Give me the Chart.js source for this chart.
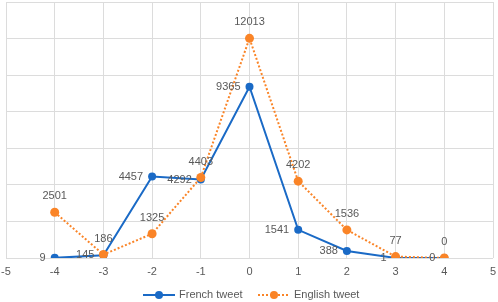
<!DOCTYPE html>
<html>
<head>
<meta charset="utf-8">
<script src="https://cdn.jsdelivr.net/npm/chart.js@4"></script>
<style>
html,body{margin:0;padding:0;background:#fff;}
#wrap{width:498px;height:302px;}
</style>
</head>
<body>
<div id="wrap"><canvas id="c" width="498" height="302"></canvas></div>
<script>
const xValues = [-4, -3, -2, -1, 0, 1, 2, 3, 4];
const frenchTweet = [9, 145, 4457, 4292, 9365, 1541, 388, 1, 0];
const englishTweet = [2501, 186, 1325, 4403, 12013, 4202, 1536, 77, 0];
const seriesNames = ['French tweet', 'English tweet'];

const BLUE = '#1a6ac6';
const ORANGE = '#fa8427';
const TEXT = '#595959';
const FONT = '"Liberation Sans", Arial, sans-serif';

const labelPlugin = {
  id: 'pointLabels',
  afterDatasetsDraw(chart) {
    const ctx = chart.ctx;
    ctx.save();
    ctx.font = '11px ' + FONT;
    ctx.fillStyle = TEXT;
    chart.data.datasets.forEach((ds, i) => {
      const meta = chart.getDatasetMeta(i);
      meta.data.forEach((pt, j) => {
        const v = ds.data[j].y;
        if (i === 0) {
          ctx.textAlign = 'right'; ctx.textBaseline = 'middle';
          ctx.fillText(String(v), pt.x - 9, pt.y);
        } else {
          ctx.textAlign = 'center'; ctx.textBaseline = 'middle';
          ctx.fillText(String(v), pt.x, pt.y - 16);
        }
      });
    });
    ctx.restore();
  }
};

const legendPlugin = {
  id: 'lineLegend',
  afterDraw(chart) {
    const ctx = chart.ctx;
    const y = 295;
    const items = [
      { x: 143, ds: chart.data.datasets[0], dash: [] },
      { x: 258, ds: chart.data.datasets[1], dash: [2, 2] }
    ];
    ctx.save();
    items.forEach(it => {
      ctx.strokeStyle = it.ds.borderColor;
      ctx.lineWidth = 2;
      ctx.setLineDash(it.dash);
      ctx.beginPath(); ctx.moveTo(it.x, y); ctx.lineTo(it.x + 32, y); ctx.stroke();
      ctx.setLineDash([]);
      ctx.fillStyle = it.ds.borderColor;
      ctx.beginPath(); ctx.arc(it.x + 16, y, 4, 0, Math.PI * 2); ctx.fill();
      ctx.fillStyle = TEXT;
      ctx.font = '11px ' + FONT;
      ctx.textAlign = 'left'; ctx.textBaseline = 'middle';
      ctx.fillText(it.ds.label, it.x + 36, y);
    });
    ctx.restore();
  }
};

new Chart(document.getElementById('c'), {
  type: 'line',
  data: {
    datasets: [
      {
        label: seriesNames[0],
        data: xValues.map((x, i) => ({ x: x, y: frenchTweet[i] })),
        borderColor: BLUE, backgroundColor: BLUE,
        borderWidth: 2, pointRadius: 4, pointHoverRadius: 4, pointBorderWidth: 0,
        pointStyle: 'circle', order: 1,
        tension: 0
      },
      {
        label: seriesNames[1],
        data: xValues.map((x, i) => ({ x: x, y: englishTweet[i] })),
        borderColor: ORANGE, backgroundColor: ORANGE,
        borderWidth: 2, borderDash: [2, 2], pointRadius: 4.5, pointHoverRadius: 4.5, pointBorderWidth: 0,
        pointStyle: 'circle', order: 0,
        tension: 0
      }
    ]
  },
  options: {
    responsive: false,
    animation: false,
    layout: { autoPadding: false, padding: { left: 6, right: 5, top: 2, bottom: 24 } },
    scales: {
      x: {
        type: 'linear', min: -5, max: 5,
        ticks: { stepSize: 1, color: TEXT, font: { family: FONT, size: 11 }, padding: 7 },
        grid: { color: '#dcdcdc', drawTicks: false, lineWidth: 1 },
        border: { display: false },
        afterFit(scale) { scale.paddingLeft = 0; scale.paddingRight = 0; scale.height = 20; }
      },
      y: {
        min: 0, max: 14000,
        ticks: { stepSize: 2000, display: false },
        grid: { color: '#dcdcdc', drawTicks: false, lineWidth: 1 },
        border: { display: false },
        afterFit(scale) { scale.width = 0; scale.paddingTop = 0; scale.paddingBottom = 0; }
      }
    },
    plugins: {
      tooltip: { enabled: false },
      legend: { display: false }
    }
  },
  plugins: [labelPlugin, legendPlugin]
});
</script>
</body>
</html>
